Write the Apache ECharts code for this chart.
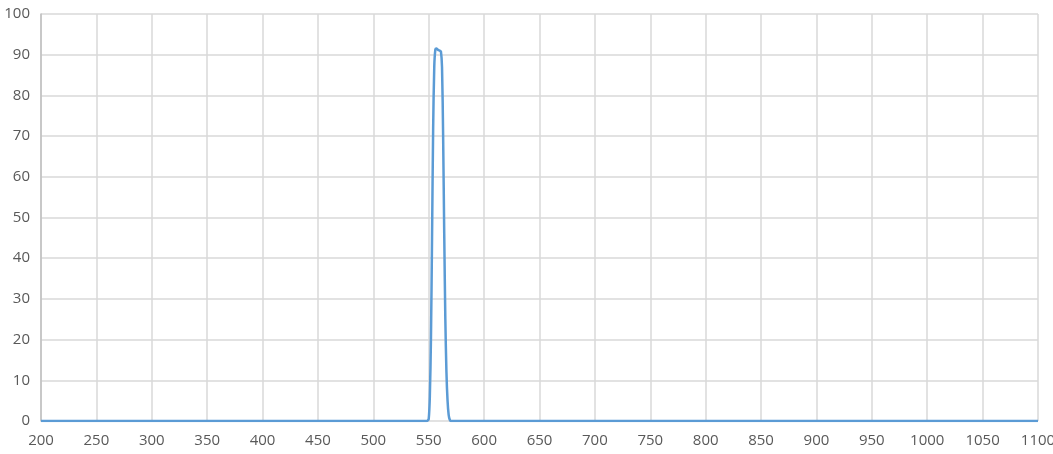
<!DOCTYPE html>
<html>
<head>
<meta charset="utf-8">
<script src="https://cdn.jsdelivr.net/npm/echarts@6/dist/echarts.min.js"></script>
<style>
  html, body { margin: 0; padding: 0; background: #fff; }
  #main { width: 1053px; height: 454px; }
</style>
</head>
<body>
<div id="main"></div>
<script>
// wavelength (nm) and transmission (%)
var wavelength = [200, 250, 300, 350, 400, 450, 500, 540, 545, 548, 549, 550, 551, 552, 553, 554, 555, 556, 557, 558, 559, 560, 561, 562, 563, 564, 565, 566, 567, 568, 569, 570, 575, 580, 600, 650, 700, 750, 800, 850, 900, 950, 1000, 1050, 1100];
var transmission = [0, 0, 0, 0, 0, 0, 0, 0, 0, 0, 0.1, 0.5, 6, 20, 45, 72, 87, 91.3, 91.5, 91.3, 91.1, 91, 90.8, 87, 70, 46, 25, 12, 5, 1.5, 0.3, 0, 0, 0, 0, 0, 0, 0, 0, 0, 0, 0, 0, 0, 0];

var myChart = echarts.init(document.getElementById('main'));

var points = [];
for (var i = 0; i < wavelength.length; i++) {
    points.push([wavelength[i], transmission[i]]);
}

option = {
    animation: false,
    grid: { left: 41, right: 15, top: 14, bottom: 33, outerBoundsMode: 'none' },
    xAxis: {
        type: 'value',
        min: 200, max: 1100, interval: 50,
        axisLine: { show: false },
        axisTick: { show: false },
        axisLabel: {
            color: '#595959', fontSize: 15, fontFamily: 'Open Sans', margin: 12,
            formatter: function (v) { return String(v); }
        },
        splitLine: { show: true, lineStyle: { color: '#d9d9d9', width: 1.5 } }
    },
    yAxis: {
        type: 'value',
        min: 0, max: 100, interval: 10,
        axisLine: { show: true, lineStyle: { color: '#bfbfbf', width: 1.5 } },
        axisTick: { show: false },
        axisLabel: { color: '#595959', fontSize: 15, fontFamily: 'Open Sans', margin: 11 },
        splitLine: { lineStyle: { color: '#d9d9d9', width: 1.5 } }
    },
    series: [
        {
            type: 'line',
            data: points,
            smooth: 0.3,
            showSymbol: false,
            lineStyle: { color: '#5b9bd5', width: 2.5 }
        }
    ]
};

myChart.setOption(option);
</script>
</body>
</html>
